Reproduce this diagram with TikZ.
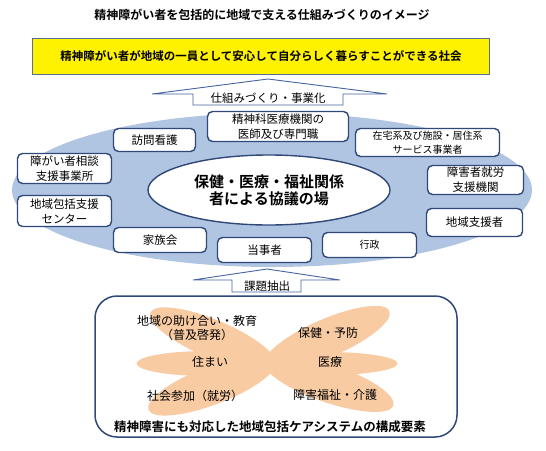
\documentclass[tikz,border=0pt]{standalone}
\usepackage{fontspec}
\setmainfont{Noto Sans CJK JP}[BoldFont={Noto Sans CJK JP Bold}]
\usetikzlibrary{shapes.geometric}

\definecolor{navy}{RGB}{47,72,120}
\definecolor{arrowblue}{RGB}{70,100,160}
\definecolor{ringblue}{RGB}{176,197,226}
\definecolor{petal}{RGB}{248,203,163}
\definecolor{goalframe}{RGB}{90,110,145}

\tikzset{
  orgbox/.style={draw=navy, line width=1.4pt, rounded corners=5pt, fill=white,
    align=center, inner sep=0pt, font=\fontsize{11.5}{15}\selectfont},
  smallbox/.style={orgbox, font=\fontsize{10}{14}\selectfont},
  arrowshape/.style={draw=arrowblue, line width=0.9pt, fill=white, line join=miter},
  plain/.style={align=center, inner sep=0pt, font=\fontsize{11.5}{15}\selectfont},
  element/.style={plain, font=\fontsize{12}{14}\selectfont},
  heading/.style={align=center, inner sep=0pt, font=\bfseries\fontsize{12}{14}\selectfont}
}

\begin{document}
\begin{tikzpicture}[x=1pt, y=-1pt]
    \useasboundingbox (0,0) rectangle (546,450);

    \node[heading] (title) at (262,15) {精神障がい者を包括的に地域で支える仕組みづくりのイメージ};
    \node[heading, draw=goalframe, line width=1.5pt, fill=yellow,
      minimum width=457pt, minimum height=36pt, font=\bfseries\fontsize{11.5}{14}\selectfont]
      (goal) at (261,56.5) {精神障がい者が地域の一員として安心して自分らしく暮らすことができる社会};

    \draw[arrowshape] (268,79) -- (387,94) -- (343,94) -- (343,105) -- (193,105)
      -- (193,94) -- (152,94) -- cycle;
    \node[plain] (shikumi) at (268,98) {仕組みづくり・事業化};

    \fill[ringblue] (272,190) ellipse [x radius=260, y radius=77];
    \node[ellipse, draw=navy, line width=1.4pt, fill=white, minimum width=242pt,
      minimum height=70pt, inner sep=0pt, align=center,
      font=\bfseries\fontsize{15}{17}\selectfont] (kyogi) at (269,190)
      {保健・医療・福祉関係\\者による協議の場};

    \node[orgbox, minimum width=82pt, minimum height=23pt] (homon) at (154.5,140) {訪問看護};
    \node[orgbox, minimum width=141pt, minimum height=30pt] (iryo) at (278,126.5) {精神科医療機関の\\医師及び専門職};
    \node[smallbox, minimum width=144pt, minimum height=28pt] (zaitaku) at (427.5,142.5) {在宅系及び施設・居住系\\サービス事業者};
    \node[orgbox, minimum width=96pt, minimum height=29pt] (shuro) at (475.5,180) {障害者就労\\支援機関};
    \node[orgbox, minimum width=96pt, minimum height=28pt] (shiensha) at (474.5,222.5) {地域支援者};
    \node[smallbox, minimum width=94pt, minimum height=25pt] (gyosei) at (369.5,245) {行政};
    \node[orgbox, minimum width=94pt, minimum height=25pt] (tojisha) at (264.5,250) {当事者};
    \node[orgbox, minimum width=93pt, minimum height=25pt] (kazoku) at (160,240) {家族会};
    \node[orgbox, minimum width=94pt, minimum height=31pt] (hokatsu) at (64.5,211) {地域包括支援\\センター};
    \node[orgbox, minimum width=94pt, minimum height=30pt] (sodan) at (64.5,168.5) {障がい者相談\\支援事業所};

    \draw[arrowshape] (267,269) -- (340,280) -- (301,280) -- (301,292) -- (232,292)
      -- (232,280) -- (193,280) -- cycle;
    \node[plain] (kadai) at (267,286) {課題抽出};

    \draw[navy, line width=1.5pt, fill=white, rounded corners=22pt] (95,296) rectangle (457,437);
    \fill[petal, rotate around={-22.8:(213,339)}] (213,339) ellipse [x radius=68, y radius=19];
    \fill[petal, rotate around={23.4:(327,338)}] (327,338) ellipse [x radius=68, y radius=19];
    \fill[petal, rotate around={20.9:(212,385.5)}] (212,385.5) ellipse [x radius=68, y radius=19];
    \fill[petal, rotate around={-18.9:(329,383.5)}] (329,383.5) ellipse [x radius=68, y radius=19];
    \fill[petal] (207.5,363.5) ellipse [x radius=71, y radius=12.5];
    \fill[petal] (327.5,363.5) ellipse [x radius=70, y radius=11.5];

    \node[element] (tasukeai) at (197,328.5) {地域の助け合い・教育\\（普及啓発）};
    \node[element] (hoken) at (328,333) {保健・予防};
    \node[element] (sumai) at (210,362) {住まい};
    \node[element] (iryoyoso) at (330,362) {医療};
    \node[element] (sanka) at (195,395.5) {社会参加（就労）};
    \node[element] (fukushi) at (335,395) {障害福祉・介護};
    \node[heading, font=\bfseries\fontsize{12.5}{15}\selectfont] (yoso) at (270,427) {精神障害にも対応した地域包括ケアシステムの構成要素};
\end{tikzpicture}
\end{document}
